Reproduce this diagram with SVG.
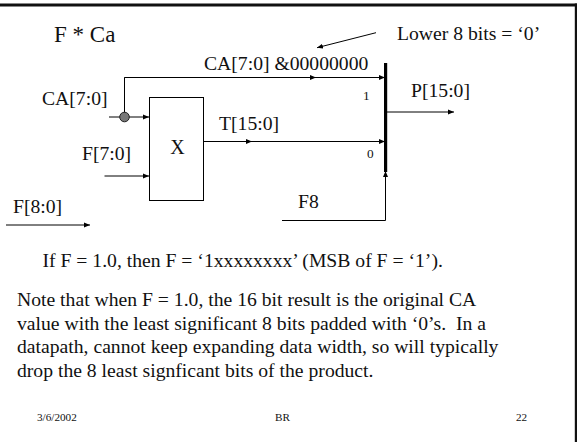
<svg xmlns="http://www.w3.org/2000/svg" width="577" height="442" viewBox="0 0 577 442">
<style>
text{font-family:"Liberation Serif","Times New Roman",serif;fill:#111;white-space:pre}
.l{font-size:19.67px}
.s{font-size:11.2px}
.b{font-size:13.300px}
.w{fill:none;stroke:#000;stroke-width:1}
</style>
<defs>
<marker id="a" markerWidth="7" markerHeight="6" refX="6" refY="3" orient="auto" markerUnits="userSpaceOnUse"><path d="M0 .5L6 3L0 5.500z" fill="#000"/></marker>
</defs>
<rect width="577" height="442" fill="#fff"/>
<rect x="0" y="3.500" width="577" height="3" fill="#111"/>
<rect x="574.800" y="3.500" width="2.200" height="438.500" fill="#111"/>
<g id="connectors">
<path class="w" d="M124.500 117V77.500H385" marker-end="url(#a)"/>
<path class="w" d="M124.500 77.500H316" marker-end="url(#a)"/>
<path class="w" d="M109 117H149" marker-end="url(#a)"/>
<path class="w" d="M104.500 176H149" marker-end="url(#a)"/>
<path class="w" d="M6 225H90" marker-end="url(#a)"/>
<path class="w" d="M204 141.500H385" marker-end="url(#a)"/>
<path class="w" d="M204 141.500H252" marker-end="url(#a)"/>
<path class="w" d="M386 112H454" marker-end="url(#a)"/>
<path class="w" d="M282 220.500H385.500V171" marker-end="url(#a)"/>
<path class="w" d="M376 32.700L317 47.700" marker-end="url(#a)"/>
</g>
<g id="junction"><circle cx="124.500" cy="117" r="4.800" fill="#777" stroke="#222"/></g>
<g id="multiplier"><rect x="149.500" y="97.500" width="54" height="103" fill="#fff" stroke="#000"/><text x="177.500" y="154" style="font-size:20px" text-anchor="middle">X</text></g>
<g id="mux"><rect x="384" y="63" width="3.200" height="109" fill="#000"/><text x="363" y="100" class="b">1</text><text x="367" y="158" class="b">0</text></g>
<g id="labels">
<text x="54" y="42" style="font-size:23px">F * Ca</text>
<text x="397" y="40" class="l">Lower 8 bits = ‘0’</text>
<text x="204" y="70" class="l">CA[7:0] &amp;00000000</text>
<text x="42" y="105" class="l">CA[7:0]</text>
<text x="411" y="97" class="l">P[15:0]</text>
<text x="219" y="130" class="l">T[15:0]</text>
<text x="82" y="160" class="l">F[7:0]</text>
<text x="13" y="213" class="l">F[8:0]</text>
<text x="298" y="208" class="l">F8</text>
</g>
<g id="notes">
<text x="42.500" y="267" class="l">If F = 1.0, then F = ‘1xxxxxxxx’ (MSB of F = ‘1’).</text>
<text x="17" y="306" class="l">Note that when F = 1.0, the 16 bit result is the original CA</text>
<text x="17" y="330" class="l">value with the least significant 8 bits padded with ‘0’s.  In a</text>
<text x="17" y="353" class="l">datapath, cannot keep expanding data width, so will typically</text>
<text x="17" y="377" class="l">drop the 8 least signficant bits of the product.</text>
<text x="37" y="421" class="s">3/6/2002</text>
<text x="275" y="421" class="s">BR</text>
<text x="516" y="421" class="s">22</text>
</g>
</svg>
